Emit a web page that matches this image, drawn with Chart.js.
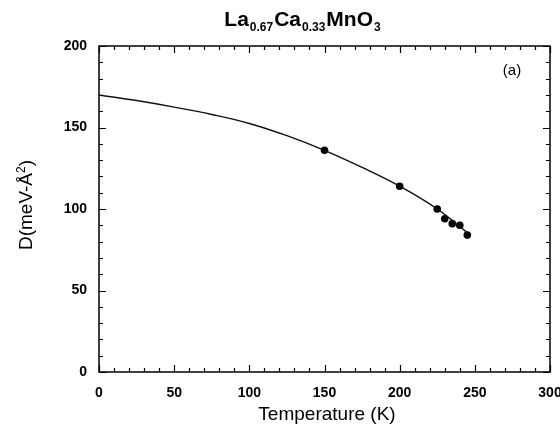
<!DOCTYPE html>
<html><head><meta charset="utf-8">
<script src="https://cdn.jsdelivr.net/npm/chart.js@4"></script>
<style>html,body{margin:0;padding:0;background:#fff}#wrap{width:560px;height:426px}</style>
</head><body><div id="wrap"><canvas id="c" width="560" height="426"></canvas></div>
<script>
// Measured points
const tempPoints = [150, 200, 225, 230, 235, 240, 245];
const dPoints    = [136, 114, 100, 94, 91, 90, 84];
// Fitted curve
const curveT = [0, 25, 50, 75, 100, 125, 150, 175, 200, 225, 245];
const curveD = [170, 166.5, 162.5, 158, 152.5, 145, 136, 125.5, 114, 100, 85.5];
const xTickValues = [0, 50, 100, 150, 200, 250, 300];
const yTickValues = [0, 50, 100, 150, 200];
const titleParts = [["La", false], ["0.67", true], ["Ca", false], ["0.33", true], ["MnO", false], ["3", true]];
const xTitle = "Temperature (K)";
const yTitleMain = "D(meV-Å";
const yTitleSup = "2";
const yTitleEnd = ")";
const panelLabel = "(a)";

const FONT = '"Liberation Sans", Arial, Helvetica, sans-serif';

const decor = {
  id: 'decor',
  afterDraw(chart) {
    const {ctx, chartArea: a, scales: {x, y}} = chart;
    ctx.save();
    ctx.strokeStyle = '#000';
    ctx.lineWidth = 1.5;
    ctx.strokeRect(a.left, a.top, a.right - a.left, a.bottom - a.top);
    ctx.lineWidth = 1.2;
    ctx.beginPath();
    for (let v = x.min; v <= x.max; v += 10) {
      const px = Math.round(x.getPixelForValue(v)) + 0.5;
      const L = (v % 50 === 0) ? 7 : 4;
      ctx.moveTo(px, a.bottom); ctx.lineTo(px, a.bottom - L);
      ctx.moveTo(px, a.top); ctx.lineTo(px, a.top + L);
    }
    for (let v = y.min; v <= y.max; v += 10) {
      const py = Math.round(y.getPixelForValue(v)) + 0.5;
      const L = (v % 50 === 0) ? 7 : 4;
      ctx.moveTo(a.left, py); ctx.lineTo(a.left + L, py);
      ctx.moveTo(a.right, py); ctx.lineTo(a.right - L, py);
    }
    ctx.stroke();

    // Title with subscripts
    ctx.fillStyle = '#000';
    ctx.textBaseline = 'alphabetic';
    ctx.textAlign = 'left';
    const mainF = 'bold 21px ' + FONT, subF = 'bold 12px ' + FONT;
    let total = 0;
    titleParts.forEach(([t, s]) => { ctx.font = s ? subF : mainF; total += ctx.measureText(t).width + 1; });
    let tx = 303 - total / 2;
    const base = 26;
    titleParts.forEach(([t, s]) => {
      ctx.font = s ? subF : mainF;
      ctx.fillText(t, tx, s ? base + 5 : base);
      tx += ctx.measureText(t).width + 1;
    });

    // x axis title
    ctx.font = '19px ' + FONT;
    ctx.textAlign = 'center';
    ctx.fillText(xTitle, 327, 420);

    // y axis title (rotated) with superscript
    ctx.save();
    ctx.translate(32, 205);
    ctx.rotate(-Math.PI / 2);
    const yF = '19px ' + FONT, ySupF = '12px ' + FONT;
    ctx.font = yF; const w1 = ctx.measureText(yTitleMain).width; const w3 = ctx.measureText(yTitleEnd).width;
    ctx.font = ySupF; const w2 = ctx.measureText(yTitleSup).width;
    let sx = -(w1 + w2 + w3) / 2;
    ctx.textAlign = 'left';
    ctx.font = yF; ctx.fillText(yTitleMain, sx, 0); sx += w1;
    ctx.font = ySupF; ctx.fillText(yTitleSup, sx, -7); sx += w2;
    ctx.font = yF; ctx.fillText(yTitleEnd, sx, 0);
    ctx.restore();

    // panel label
    ctx.font = '15px ' + FONT;
    ctx.textAlign = 'center';
    ctx.fillText(panelLabel, 512, 75);
    ctx.restore();
  }
};

new Chart(document.getElementById('c'), {
  type: 'scatter',
  data: {
    datasets: [
      {
        data: curveT.map((t, i) => ({x: t, y: curveD[i]})),
        showLine: true,
        borderColor: '#111',
        borderWidth: 1.5,
        pointRadius: 0,
        tension: 0.4,
        fill: false
      },
      {
        data: tempPoints.map((t, i) => ({x: t, y: dPoints[i]})),
        showLine: false,
        pointRadius: 3.8,
        pointBackgroundColor: '#000',
        pointBorderColor: '#000',
        borderWidth: 0
      }
    ]
  },
  options: {
    responsive: false,
    animation: false,
    devicePixelRatio: 1,
    layout: {padding: {top: 46, right: 10, left: 0, bottom: 0}},
    plugins: {legend: {display: false}, tooltip: {enabled: false}, title: {display: false}},
    scales: {
      x: {
        type: 'linear', min: 0, max: 300,
        afterFit(s) { s.height = 54; s.paddingLeft = 0; s.paddingRight = 0; },
        afterBuildTicks(s) { s.ticks = xTickValues.map(v => ({value: v})); },
        grid: {display: false, drawTicks: false},
        border: {display: false},
        ticks: {color: '#000', padding: 13, maxRotation: 0, font: {family: FONT, size: 14, weight: 'bold'}}
      },
      y: {
        type: 'linear', min: 0, max: 200,
        afterFit(s) { s.width = 99; s.paddingTop = 0; s.paddingBottom = 0; },
        afterBuildTicks(s) { s.ticks = yTickValues.map(v => ({value: v})); },
        grid: {display: false, drawTicks: false},
        border: {display: false},
        ticks: {color: '#000', padding: 12, font: {family: FONT, size: 14, weight: 'bold'}}
      }
    }
  },
  plugins: [decor]
});
</script>
</body></html>
